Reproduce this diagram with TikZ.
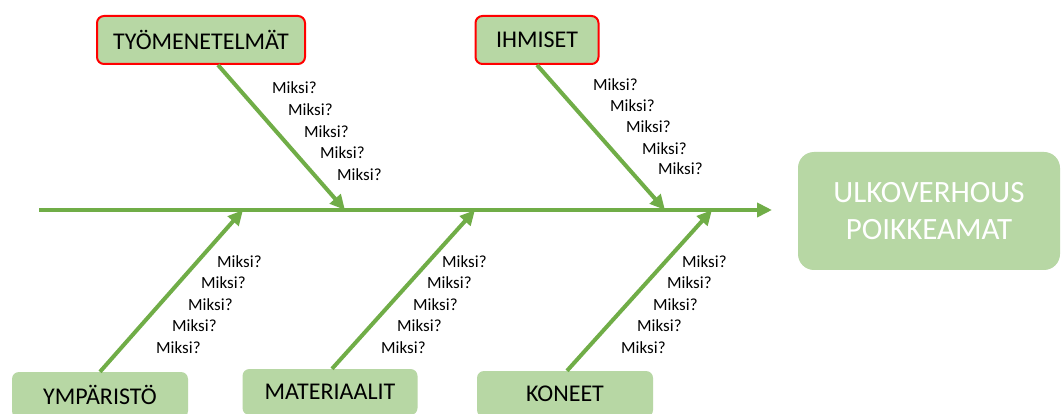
\documentclass[tikz,border=0pt]{standalone}
\usepackage{fontspec}
\setmainfont{Carlito}
\usetikzlibrary{arrows.meta,calc}
\definecolor{bonegreen}{RGB}{112,173,71}
\definecolor{boxfill}{RGB}{183,215,164}
\definecolor{boxred}{RGB}{255,0,0}
\tikzset{
  bone/.style={draw=bonegreen,line width=4pt,-{Triangle[length=15pt,width=14pt]}},
  catbox/.style={rectangle,rounded corners=7pt,fill=boxfill,inner sep=0pt,font=\fontsize{24}{28}\selectfont,text=black},
  topbox/.style={catbox,draw=boxred,line width=2pt},
  why/.style={anchor=west,inner sep=0pt,font=\fontsize{17}{19}\selectfont},
}
\begin{document}
\begin{tikzpicture}[x=1pt,y=-1pt]
\clip (0,0) rectangle (1061,414);
\fill[white] (0,0) rectangle (1061,414);
% effect box
\node[catbox,rounded corners=16pt,minimum width=262pt,minimum height=118pt,text=white,font=\fontsize{31}{37}\selectfont,align=center] (eff) at (929,211) {ULKOVERHOUS\\POIKKEAMAT};
% category boxes
\node[topbox,minimum width=208pt,minimum height=48pt] (tm) at (201,40) {TYÖMENETELMÄT};
\node[topbox,minimum width=123pt,minimum height=48pt] (ih) at (537,40) {IHMISET};
\node[catbox,minimum width=176pt,minimum height=46pt] (ym) at (100,395) {YMPÄRISTÖ};
\node[catbox,minimum width=175pt,minimum height=46pt] (ma) at (330,392) {MATERIAALIT};
\node[catbox,minimum width=176pt,minimum height=46pt] (ko) at (565,394) {KONEET};
% spine
\coordinate (tail) at (39,210);
\coordinate (head) at (772,210);
\draw[bone] (tail) -- (head);
% bone ends on spine
\coordinate (s1) at (345,210);
\coordinate (s2) at (665,210);
\coordinate (s3) at (243,210);
\coordinate (s4) at (475,210);
\coordinate (s5) at (712,210);
\draw[bone] ($(tm.south)+(17,0)$) -- (s1);
\draw[bone] ($(ih.south)+(0,0)$) -- (s2);
\draw[bone] ($(ym.north)+(0,0)$) -- (s3);
\draw[bone] ($(ma.north)+(2,0)$) -- (s4);
\draw[bone] ($(ko.north)+(2,0)$) -- (s5);
% Miksi? labels
\node[why] (a1) at (272,88) {Miksi?};
\node[why] (a2) at (288,110) {Miksi?};
\node[why] (a3) at (304,132) {Miksi?};
\node[why] (a4) at (320,153) {Miksi?};
\node[why] (a5) at (337,175) {Miksi?};
\node[why] (b1) at (593,85) {Miksi?};
\node[why] (b2) at (610,106) {Miksi?};
\node[why] (b3) at (626,127) {Miksi?};
\node[why] (b4) at (642,149) {Miksi?};
\node[why] (b5) at (658,169) {Miksi?};
\node[why] (c1) at (217,262) {Miksi?};
\node[why] (c2) at (201,283) {Miksi?};
\node[why] (c3) at (188,305) {Miksi?};
\node[why] (c4) at (172,326) {Miksi?};
\node[why] (c5) at (156,348) {Miksi?};
\node[why] (d1) at (442,262) {Miksi?};
\node[why] (d2) at (427,283) {Miksi?};
\node[why] (d3) at (413,305) {Miksi?};
\node[why] (d4) at (397,326) {Miksi?};
\node[why] (d5) at (381,348) {Miksi?};
\node[why] (e1) at (682,262) {Miksi?};
\node[why] (e2) at (667,283) {Miksi?};
\node[why] (e3) at (653,305) {Miksi?};
\node[why] (e4) at (637,326) {Miksi?};
\node[why] (e5) at (621,348) {Miksi?};
\end{tikzpicture}
\end{document}
